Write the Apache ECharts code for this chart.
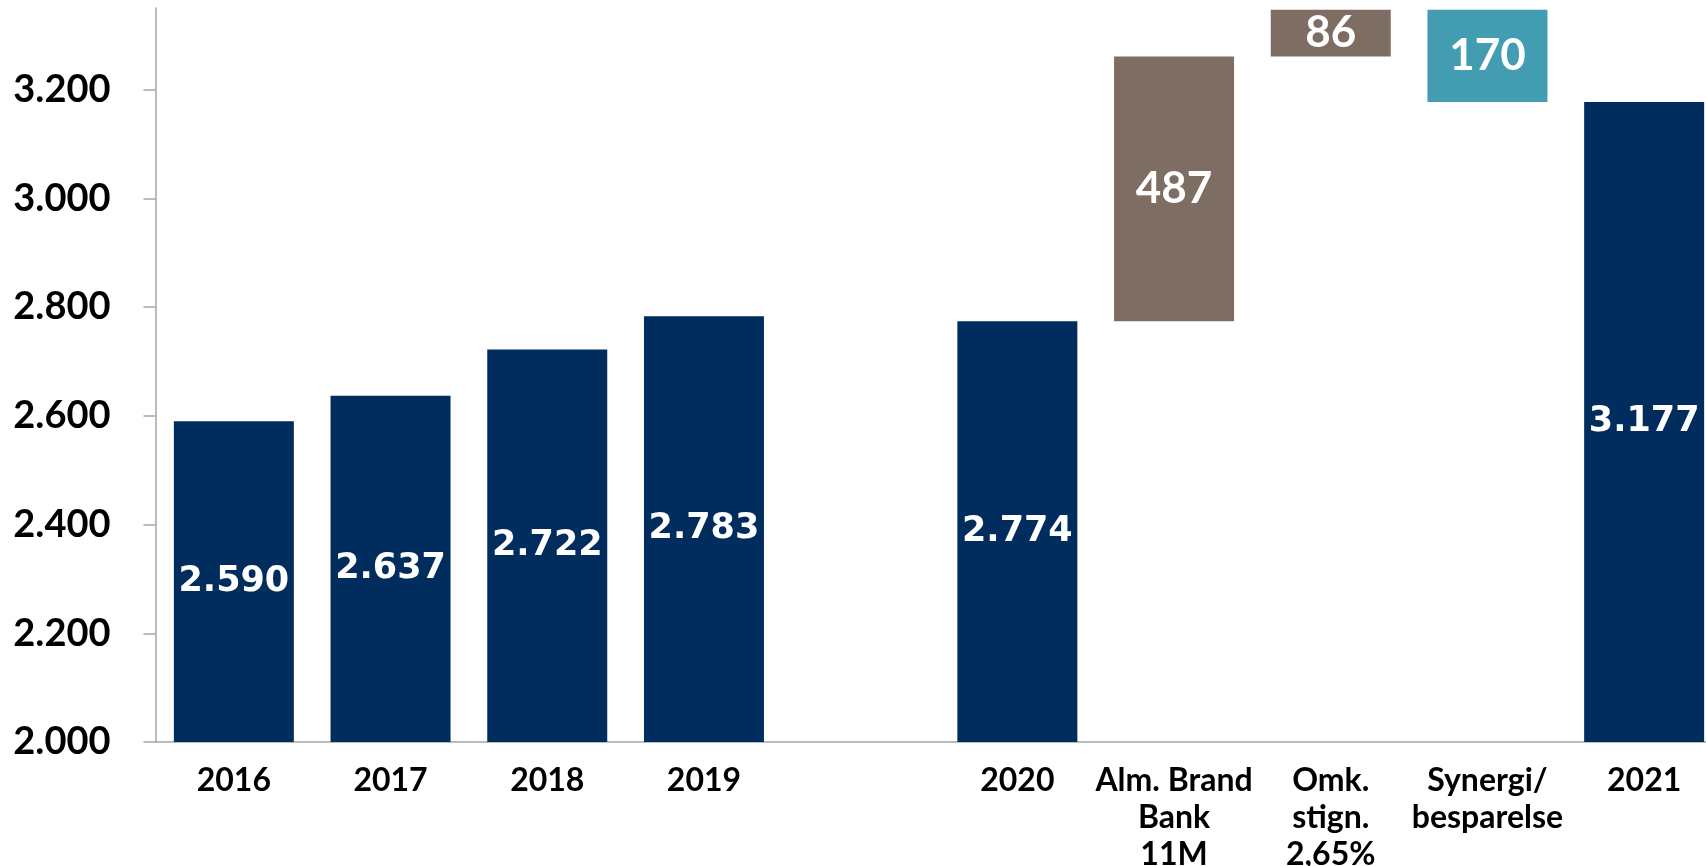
<!DOCTYPE html>
<html>
<head>
<meta charset="utf-8">
<script src="https://cdn.jsdelivr.net/npm/echarts@6/dist/echarts.min.js"></script>
<style>
  html, body { margin: 0; padding: 0; background: #fff; }
  #chart { width: 1706px; height: 866px; }
</style>
</head>
<body>
<div id="chart"></div>
<script>
// categories on the x axis (one empty slot between 2019 and 2020)
var categories = ['2016', '2017', '2018', '2019', '', '2020',
  'Alm. Brand\nBank\n11M', 'Omk.\nstign.\n2,65%', 'Synergi/\nbesparelse', '2021'];
// full bars (navy)
var totals = [2590, 2637, 2722, 2783, null, 2774, null, null, null, 3177];
// increases (brown)
var increases = [null, null, null, null, null, null, 487, 86, null, null];
// decreases (teal)
var decreases = [null, null, null, null, null, null, null, null, 170, null];
var yTicks = [2000, 2200, 2400, 2600, 2800, 3000, 3200];

// invisible base for the floating steps: running level before each step
var base = [];
var level = null;
for (var i = 0; i < categories.length; i++) {
  if (totals[i] != null) { level = totals[i]; base.push(null); continue; }
  if (increases[i] != null) { base.push(level); level += increases[i]; continue; }
  if (decreases[i] != null) { level -= decreases[i]; base.push(level); continue; }
  base.push(null);
}

function fmt(v) {
  return String(v).replace(/\B(?=(\d{3})+(?!\d))/g, '.');
}

var chart = echarts.init(document.getElementById('chart'));
var option = {
  animation: false,
  // plot runs a little past the right edge of the canvas, like the original
  grid: { left: 155.5, width: 1567, top: 8, bottom: 124, containLabel: false, outerBoundsMode: 'none' },
  xAxis: {
    type: 'category',
    data: categories,
    axisLine: { lineStyle: { color: '#a6a6a6', width: 1.5 } },
    axisTick: { length: 10, lineStyle: { color: '#a6a6a6', width: 1.5 } },
    axisLabel: {
      margin: 20, interval: 0, color: '#000',
      fontFamily: 'Lato', fontWeight: 'bold', fontSize: 32, lineHeight: 37
    }
  },
  yAxis: {
    type: 'value',
    min: 2000, max: 3350, interval: 200,
    splitLine: { show: false },
    axisLine: { show: true, lineStyle: { color: '#a6a6a6', width: 1.5 } },
    axisTick: { show: true, length: 12, customValues: yTicks, lineStyle: { color: '#a6a6a6', width: 1.5 } },
    axisLabel: {
      margin: 45, color: '#000', customValues: yTicks,
      fontFamily: 'Lato', fontWeight: 'bold', fontSize: 38,
      formatter: function (v) { return v % 200 === 0 ? fmt(v) : ''; }
    }
  },
  series: [
    {
      name: 'base', type: 'bar', stack: 'w', barWidth: 120,
      itemStyle: { color: 'transparent' },
      data: base
    },
    {
      name: 'total', type: 'bar', stack: 'w', barWidth: 120,
      itemStyle: { color: '#002d5e' },
      label: {
        show: true, position: 'inside', color: '#fff',
        fontFamily: 'DejaVu Sans', fontWeight: 'bold', fontSize: 35,
        formatter: function (p) { return fmt(p.value); }
      },
      data: totals
    },
    {
      name: 'increase', type: 'bar', stack: 'w', barWidth: 120,
      itemStyle: { color: '#7e6d62' },
      label: {
        show: true, position: 'inside', color: '#fff',
        fontFamily: 'Lato', fontWeight: 'bold', fontSize: 44
      },
      data: increases
    },
    {
      name: 'decrease', type: 'bar', stack: 'w', barWidth: 120,
      itemStyle: { color: '#429db3' },
      label: {
        show: true, position: 'inside', color: '#fff',
        fontFamily: 'Lato', fontWeight: 'bold', fontSize: 44
      },
      data: decreases
    }
  ]
};
chart.setOption(option);
</script>
</body>
</html>
